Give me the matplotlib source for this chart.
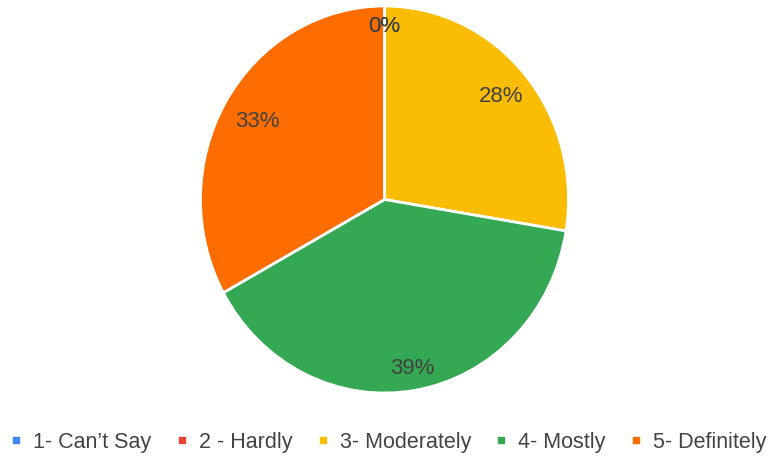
import matplotlib
matplotlib.use("Agg")
import matplotlib.pyplot as plt
from matplotlib.lines import Line2D

# survey answer shares (percent)
categories = ["1- Can\u2019t Say", "2 - Hardly", "3- Moderately", "4- Mostly", "5- Definitely"]
shares     = [0.0, 0.0, 27.6, 39.4, 33.0]
colors     = ["#4285F4", "#EA4335", "#FBBC04", "#34A853", "#FF6D01"]

# radial position of each percentage label (fraction of radius)
label_r = [0.90, 0.90, 0.83, 0.88, 0.80]

plt.rcParams["font.family"] = ["Liberation Sans", "DejaVu Sans"]

fig = plt.figure(figsize=(7.81, 4.60), dpi=100)
W, H = 781, 460
cx, cy, rx, ry = 384.5, 200.5, 184, 193.5
ax = fig.add_axes([(cx - rx) / W, (H - cy - ry) / H, 2 * rx / W, 2 * ry / H])

wedges, texts, autotexts = ax.pie(
    shares, colors=colors, startangle=90, counterclock=False,
    autopct="%.0f%%", pctdistance=0.85,
    wedgeprops=dict(edgecolor="white", linewidth=2),
    textprops=dict(fontsize=16, color="#424242"),
)
for t, r in zip(autotexts, label_r):
    x, y = t.get_position()
    d = (x ** 2 + y ** 2) ** 0.5
    t.set_position((x / d * r, y / d * r))

ax.set_aspect("auto")
ax.set_xlim(-1, 1)
ax.set_ylim(-1, 1)
ax.axis("off")

handles = [Line2D([], [], marker="s", linestyle="none", markersize=4.5,
                  markerfacecolor=c, markeredgecolor=c) for c in colors]
leg = fig.legend(handles, categories, loc="center", bbox_to_anchor=(0.497, 0.037),
                 ncol=5, frameon=False, fontsize=15.5, handlelength=0.6,
                 handletextpad=0.5, columnspacing=1.1, borderpad=0, borderaxespad=0)
for t in leg.get_texts():
    t.set_color("#444444")

fig.savefig("out.png", dpi=100)
